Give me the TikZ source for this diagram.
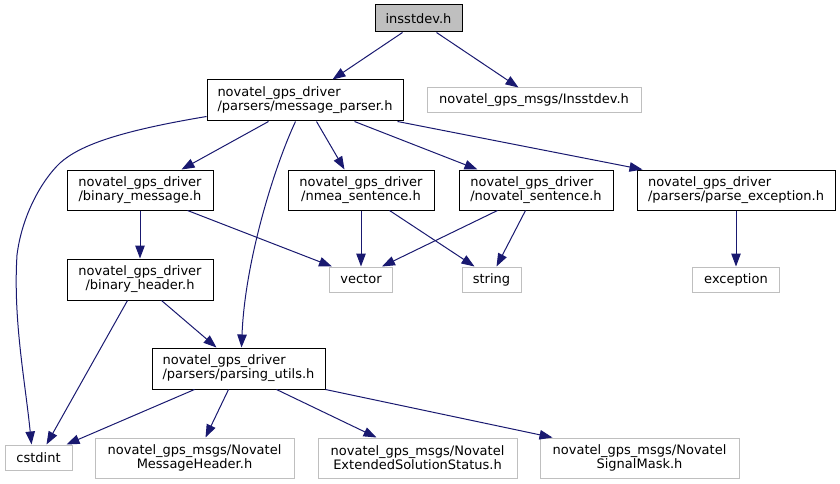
\documentclass[tikz,border=0pt]{standalone}
\usepackage{fontspec}
\setmainfont{DejaVu Sans}
\usetikzlibrary{arrows.meta,calc}
\definecolor{edgeblue}{HTML}{191970}
\definecolor{greyb}{HTML}{BFBFBF}
\begin{document}
\begin{tikzpicture}[x=1pt,y=-1pt,
  box/.style={draw=black, line width=1pt, inner sep=0pt, font=\fontsize{13}{14}\selectfont, anchor=center},
  ext/.style={box, draw=greyb},
  edge/.style={draw=edgeblue, line width=1pt, -{Triangle[length=13pt,width=9.5pt]}}]
\useasboundingbox (0,0) rectangle (840,484);
% nodes
\node[box, fill=greyb, minimum width=87pt, minimum height=27pt] (ins) at (418.5,18.5) {insstdev.h};
\node[ext, minimum width=214pt, minimum height=25pt] (imsg) at (534,100.5) {novatel\_gps\_msgs/Insstdev.h};
\node[box, minimum width=196pt, minimum height=41pt, align=left] (mp) at (305,100.5) {novatel\_gps\_driver\\/parsers/message\_parser.h};
\node[box, minimum width=146pt, minimum height=40pt, align=center] (bm) at (140,190) {novatel\_gps\_driver\\/binary\_message.h};
\node[box, minimum width=146pt, minimum height=40pt, align=center] (nmea) at (361,190) {novatel\_gps\_driver\\/nmea\_sentence.h};
\node[box, minimum width=154pt, minimum height=40pt, align=left] (ns) at (536,190) {novatel\_gps\_driver\\/novatel\_sentence.h};
\node[box, minimum width=198pt, minimum height=40pt, align=left] (pe) at (736,190) {novatel\_gps\_driver\\/parsers/parse\_exception.h};
\node[box, minimum width=146pt, minimum height=41pt, align=center] (bh) at (140,279.5) {novatel\_gps\_driver\\/binary\_header.h};
\node[ext, minimum width=63pt, minimum height=25pt] (vec) at (361,279.5) {vector};
\node[ext, minimum width=59pt, minimum height=25pt] (str) at (491.5,279.5) {string};
\node[ext, minimum width=87pt, minimum height=25pt] (exc) at (736,279.5) {exception};
\node[box, minimum width=173pt, minimum height=41pt, align=left] (pu) at (238.5,368.5) {novatel\_gps\_driver\\/parsers/parsing\_utils.h};
\node[ext, minimum width=67pt, minimum height=25pt] (cst) at (38.5,457.5) {cstdint};
\node[ext, minimum width=199pt, minimum height=40pt, align=center] (mh) at (194.5,458) {novatel\_gps\_msgs/Novatel\\MessageHeader.h};
\node[ext, minimum width=199pt, minimum height=40pt, align=center] (ess) at (417.5,458) {novatel\_gps\_msgs/Novatel\\ExtendedSolutionStatus.h};
\node[ext, minimum width=199pt, minimum height=40pt, align=center] (sm) at (639.5,458) {novatel\_gps\_msgs/Novatel\\SignalMask.h};
% edges
\draw[edge] ($(ins.south west)+(28,0)$) -- ($(mp.north west)+(126,0)$);
\draw[edge] ($(ins.south west)+(62,0)$) -- ($(imsg.north west)+(92,0)$);
\draw[edge] ($(mp.south west)+(0,-5)$) .. controls (120,131) and (80,145) .. (60,163)
  .. controls (42,180) and (22,215) .. (17,255)
  .. controls (13,320) and (25,380) .. ($(cst.north west)+(27,0)$);
\draw[edge] ($(mp.south west)+(62,0)$) -- ($(bm.north west)+(115,0)$);
\draw[edge] ($(mp.south west)+(89,0)$) .. controls (275,165) and (245,260) .. ($(pu.north west)+(90,0)$);
\draw[edge] ($(mp.south west)+(110,0)$) -- ($(nmea.north west)+(57,0)$);
\draw[edge] ($(mp.south west)+(148,0)$) -- ($(ns.north west)+(19,0)$);
\draw[edge] ($(mp.south west)+(191,0)$) -- ($(pe.north west)+(6,0)$);
\draw[edge] (bm.south) -- (bh.north);
\draw[edge] ($(bm.south west)+(121,0)$) -- ($(vec.north west)+(3,0)$);
\draw[edge] (nmea.south) -- (vec.north);
\draw[edge] ($(nmea.south west)+(102,0)$) -- ($(str.north west)+(13,0)$);
\draw[edge] ($(ns.south west)+(39,0)$) -- ($(vec.north west)+(53,0)$);
\draw[edge] ($(ns.south west)+(67,0)$) -- ($(str.north west)+(35,0)$);
\draw[edge] (pe.south) -- (exc.north);
\draw[edge] ($(bh.south west)+(61,0)$) -- ($(cst.north west)+(42,0)$);
\draw[edge] ($(bh.south west)+(95,0)$) -- ($(pu.north west)+(65,0)$);
\draw[edge] ($(pu.south west)+(43,0)$) -- ($(cst.north west)+(62,0)$);
\draw[edge] ($(pu.south west)+(77,0)$) -- ($(mh.north west)+(111,0)$);
\draw[edge] ($(pu.south west)+(125,0)$) -- ($(ess.north west)+(59,0)$);
\draw[edge] (pu.south east) -- ($(sm.north west)+(13,0)$);
\end{tikzpicture}
\end{document}
